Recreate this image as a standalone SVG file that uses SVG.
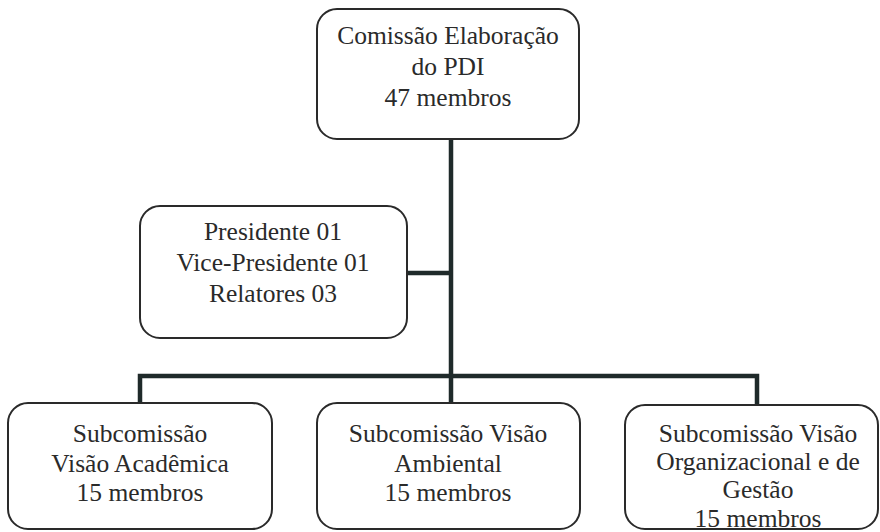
<svg xmlns="http://www.w3.org/2000/svg" width="880" height="532" viewBox="0 0 880 532">
<style>
.box{fill:#fff;stroke:#2a2a2a;stroke-width:2}
.t{font-family:"Liberation Serif","Times New Roman",serif;font-size:25.5px;fill:#2a2a2a;text-anchor:middle}
.c{fill:none;stroke:#1f2a2a;stroke-width:4.5}
</style>
<rect width="880" height="532" fill="#fff"/>
<g id="connectors">
<path class="c" d="M451 140V376"/>
<path class="c" d="M407 273H451"/>
<path class="c" d="M140 404V376H757V405"/>
<path class="c" d="M451 376V404"/>
</g>
<g id="top">
<rect class="box" x="317" y="9" width="262" height="130" rx="20"/>
<text class="t" x="448" y="44">Comissão Elaboração</text>
<text class="t" x="448" y="75">do PDI</text>
<text class="t" x="448" y="106">47 membros</text>
</g>
<g id="pres">
<rect class="box" x="140" y="206" width="267" height="132" rx="20"/>
<text class="t" x="273" y="240">Presidente 01</text>
<text class="t" x="273" y="271">Vice-Presidente 01</text>
<text class="t" x="273" y="302">Relatores 03</text>
</g>
<g id="sub1">
<rect class="box" x="8" y="403" width="264" height="126" rx="20"/>
<text class="t" x="140" y="442">Subcomissão</text>
<text class="t" x="140" y="472">Visão Acadêmica</text>
<text class="t" x="140" y="501">15 membros</text>
</g>
<g id="sub2">
<rect class="box" x="317" y="403" width="263" height="126" rx="20"/>
<text class="t" x="448" y="442">Subcomissão Visão</text>
<text class="t" x="448" y="472">Ambiental</text>
<text class="t" x="448" y="501">15 membros</text>
</g>
<g id="sub3">
<rect class="box" x="625" y="405" width="253" height="124" rx="20"/>
<text class="t" x="758" y="442">Subcomissão Visão</text>
<text class="t" x="758" y="470">Organizacional e de</text>
<text class="t" x="758" y="498">Gestão</text>
<text class="t" x="758" y="527">15 membros</text>
</g>
</svg>
